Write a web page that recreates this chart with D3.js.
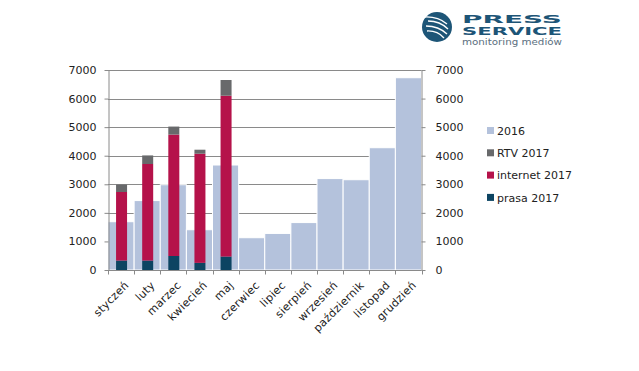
<!DOCTYPE html>
<html>
<head>
<meta charset="utf-8">
<script src="https://cdn.jsdelivr.net/npm/d3@7"></script>
<style>
  body { margin: 0; background: #fff; }
  svg { display: block; font-family: "DejaVu Sans", Verdana, sans-serif; }
</style>
</head>
<body>
<div id="chart"></div>
<script>
const months = ["styczeń", "luty", "marzec", "kwiecień", "maj", "czerwiec", "lipiec",
  "sierpień", "wrzesień", "październik", "listopad", "grudzień"];
const total2016 = [1690, 2430, 2985, 1410, 3675, 1130, 1280, 1660, 3200, 3160, 4280, 6730];
const months2017 = ["styczeń", "luty", "marzec", "kwiecień", "maj"];
const prasa2017 = [330, 330, 490, 250, 470];
const internet2017 = [2400, 3380, 4250, 3820, 5630];
const rtv2017 = [260, 300, 280, 140, 550];
const yTicks = [0, 1000, 2000, 3000, 4000, 5000, 6000, 7000];
const legendItems = ["2016", "RTV 2017", "internet 2017", "prasa 2017"];

const colors = {
  "2016": "#b4c2dc",
  "RTV 2017": "#68696b",
  "internet 2017": "#b5124a",
  "prasa 2017": "#0c4462"
};

const width = 639, height = 371;
const svg = d3.select("#chart").append("svg")
  .attr("width", width).attr("height", height);

const x = d3.scaleBand().domain(months).range([108, 421.5]);
const y = d3.scaleLinear().domain([0, 7000]).range([270, 70]);
const axisColor = "#8a8a8a";

// gridlines
svg.append("g").selectAll("line")
  .data(yTicks.slice(1))
  .join("line")
  .attr("x1", 108).attr("x2", 421.5)
  .attr("y1", d => Math.round(y(d)) + 0.5).attr("y2", d => Math.round(y(d)) + 0.5)
  .attr("stroke", axisColor).attr("stroke-width", 1);

// 2016 bars
svg.append("g").selectAll("rect")
  .data(months.map((m, i) => ({ m, v: total2016[i] })))
  .join("rect")
  .attr("x", d => x(d.m))
  .attr("y", d => y(d.v))
  .attr("width", x.bandwidth())
  .attr("height", d => y(0) - y(d.v))
  .attr("fill", colors["2016"])
  .attr("stroke", "#fff").attr("stroke-width", 1);

// 2017 stacked bars
const rows = months2017.map((m, i) => ({
  m, prasa: prasa2017[i], internet: internet2017[i], rtv: rtv2017[i]
}));
const stack = d3.stack().keys(["prasa", "internet", "rtv"]);
const keyName = { prasa: "prasa 2017", internet: "internet 2017", rtv: "RTV 2017" };
const barW = 11;
svg.append("g").selectAll("g")
  .data(stack(rows))
  .join("g")
  .attr("fill", s => colors[keyName[s.key]])
  .selectAll("rect")
  .data(s => s)
  .join("rect")
  .attr("x", d => x(d.data.m) + x.bandwidth() / 2 - barW / 2 + 0.5)
  .attr("y", d => y(d[1]))
  .attr("width", barW)
  .attr("height", d => y(d[0]) - y(d[1]));

// axes
const styleAxis = g => {
  g.select(".domain").attr("stroke", axisColor);
  g.selectAll(".tick line").attr("stroke", axisColor);
  g.selectAll("text").attr("fill", "#222").attr("font-size", 11)
    .attr("font-family", "DejaVu Sans, Verdana, sans-serif");
};

svg.append("g")
  .attr("transform", "translate(108.5,0)")
  .call(d3.axisLeft(y).tickValues(yTicks).tickSize(4).tickSizeOuter(0).tickPadding(8).tickFormat(d3.format("d")))
  .call(styleAxis);

svg.append("g")
  .attr("transform", "translate(421.5,0)")
  .call(d3.axisRight(y).tickValues(yTicks).tickSize(4).tickSizeOuter(0).tickPadding(10).tickFormat(d3.format("d")))
  .call(styleAxis);

// bottom axis: ticks on band boundaries
const xAxis = svg.append("g").attr("transform", "translate(0,270.5)");
xAxis.append("line")
  .attr("x1", 108).attr("x2", 421.5)
  .attr("stroke", axisColor);
xAxis.selectAll(".btick")
  .data(months.map(m => x(m)).concat([x.range()[1]]))
  .join("line")
  .attr("class", "btick")
  .attr("x1", d => Math.round(d) + 0.5).attr("x2", d => Math.round(d) + 0.5)
  .attr("y1", 0).attr("y2", 4)
  .attr("stroke", axisColor);
xAxis.selectAll("text")
  .data(months)
  .join("text")
  .attr("transform", d => `translate(${x(d) + x.bandwidth() / 2 + 3},${10}) rotate(-45)`)
  .attr("text-anchor", "end")
  .attr("dy", "0.7em")
  .attr("font-size", 11)
  .attr("letter-spacing", 0.3)
  .attr("fill", "#222")
  .text(d => d);

// legend
const legend = svg.append("g").attr("transform", "translate(487,0)");
legend.selectAll("g")
  .data(legendItems)
  .join("g")
  .attr("transform", (d, i) => `translate(0,${131 + i * 22.3})`)
  .call(g => g.append("rect")
    .attr("x", 0).attr("y", -4).attr("width", 7).attr("height", 7)
    .attr("fill", d => colors[d]))
  .call(g => g.append("text")
    .attr("x", 10).attr("dy", "0.35em")
    .attr("font-size", 11).attr("fill", "#222")
    .text(d => d));

// logo
const logo = svg.append("g");
logo.append("circle").attr("cx", 437).attr("cy", 27).attr("r", 15).attr("fill", "#1d5577");
const stripes = [[-9, -6, 11, 2], [-11, -1, 10, 7], [-10, 4, 7, 11], [-12, -10, 10, -3]];
logo.selectAll(".stripe")
  .data(stripes)
  .join("path")
  .attr("class", "stripe")
  .attr("d", d => `M${437 + d[0]},${27 + d[1]} Q${437 + (d[0] + d[2]) / 2 + 2},${27 + (d[1] + d[3]) / 2 - 4} ${437 + d[2]},${27 + d[3]}`)
  .attr("fill", "none").attr("stroke", "#fff").attr("stroke-width", 1.3);
logo.append("text").attr("x", 462).attr("y", 22.5)
  .attr("font-size", 11).attr("font-weight", "bold").attr("fill", "#1d5577")
  .attr("textLength", 100).attr("lengthAdjust", "spacingAndGlyphs")
  .text("PRESS");
logo.append("text").attr("x", 462).attr("y", 34.5)
  .attr("font-size", 10.5).attr("font-weight", "bold").attr("fill", "#1d5577")
  .attr("textLength", 100).attr("lengthAdjust", "spacingAndGlyphs")
  .text("SERVICE");
logo.append("text").attr("x", 462).attr("y", 44.5)
  .attr("font-size", 8.5).attr("fill", "#5b6f80")
  .attr("textLength", 100).attr("lengthAdjust", "spacingAndGlyphs")
  .text("monitoring mediów");
</script>
</body>
</html>
